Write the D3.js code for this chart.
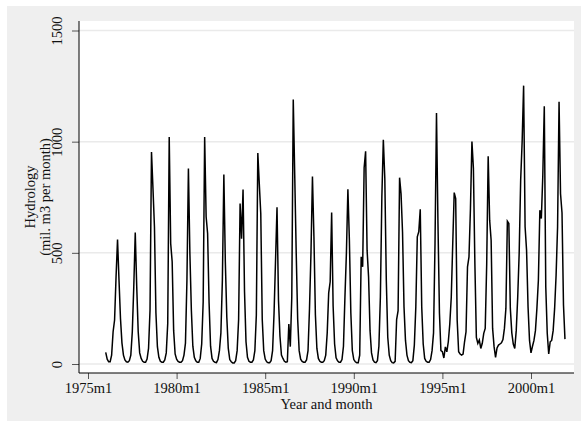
<!DOCTYPE html>
<html>
<head>
<meta charset="utf-8">
<script src="https://cdn.jsdelivr.net/npm/d3@7"></script>
<style>
  body { margin: 0; background: #fff; }
  svg { display: block; }
</style>
</head>
<body>
<svg id="chart" width="581" height="424"></svg>
<script>
// monthly series starts 1976m1
var startYear = 1976;
var hydrology = [
  52, 22, 10, 10, 40, 145, 198, 392, 560, 377, 205, 94,      // 1976
  40, 18, 10, 8, 15, 40, 145, 347, 591, 347, 145, 50,        // 1977
  25, 12, 8, 8, 22, 70, 242, 953, 789, 617, 229, 78,         // 1978
  30, 12, 8, 8, 18, 50, 183, 1021, 542, 460, 150, 45,        // 1979
  22, 12, 8, 8, 15, 40, 94, 377, 879, 497, 242, 80,          // 1980
  30, 14, 8, 8, 25, 90, 280, 1021, 662, 587, 274, 80,        // 1981
  25, 12, 8, 6, 20, 60, 140, 377, 852, 460, 210, 70,         // 1982
  20, 10, 5, 5, 15, 60, 200, 722, 564, 785, 325, 100,        // 1983
  30, 12, 8, 8, 18, 60, 220, 949, 810, 677, 200, 60,         // 1984
  22, 10, 6, 6, 15, 60, 229, 467, 705, 287, 125, 40,         // 1985
  25, 12, 8, 10, 180, 78, 300, 1190, 849, 500, 200, 60,      // 1986
  22, 12, 8, 8, 18, 60, 250, 500, 843, 572, 220, 70,         // 1987
  25, 12, 8, 8, 15, 40, 140, 320, 370, 681, 260, 90,         // 1988
  28, 14, 8, 8, 20, 80, 302, 500, 786, 560, 229, 60,         // 1989
  20, 10, 6, 6, 40, 482, 437, 883, 957, 512, 392, 150,       // 1990
  50, 18, 8, 6, 15, 80, 302, 751, 1009, 834, 380, 120,       // 1991
  40, 15, 6, 5, 12, 200, 240, 838, 766, 594, 257, 106,       // 1992
  40, 15, 8, 6, 15, 85, 257, 572, 595, 696, 257, 90,         // 1993
  25, 12, 8, 8, 20, 60, 140, 542, 1129, 632, 229, 60,        // 1994
  55, 27, 77, 55, 100, 180, 300, 540, 771, 744, 198, 55,     // 1995
  45, 40, 45, 100, 145, 437, 482, 700, 1001, 880, 450, 120,  // 1996
  93, 108, 70, 93, 138, 160, 450, 934, 647, 557, 160, 78,    // 1997
  30, 72, 85, 90, 95, 110, 160, 250, 642, 632, 250, 140,     // 1998
  90, 70, 150, 300, 500, 826, 1000, 1252, 617, 512, 257, 106,// 1999
  50, 80, 106, 150, 250, 377, 692, 654, 849, 1159, 347, 138, // 2000
  45, 100, 106, 150, 250, 400, 617, 1180, 766, 680, 265, 112 // 2001
];
var xTickYears = [1975, 1980, 1985, 1990, 1995, 2000];
var yTicks = [0, 500, 1000, 1500];

var svg = d3.select('#chart');
var font = '"Liberation Serif", "Times New Roman", serif';

var plot = {left: 79, right: 574, top: 21, bottom: 373};

// months counted from 1960m1 like stata %tm
function tm(year, month){ return (year - 1960) * 12 + (month - 1); }

var data = hydrology.map(function(v, i){
  return {t: tm(startYear, 1) + i, value: v};
});

var xScale = d3.scaleLinear()
  .domain([tm(1975, 1), tm(2000, 1)])
  .range([88, 531]);
var yScale = d3.scaleLinear()
  .domain([0, 1500])
  .range([364, 30.5]);

// outer graph region
svg.append('rect')
  .attr('x', 7).attr('y', 6)
  .attr('width', 574).attr('height', 415)
  .attr('fill', '#efefef');

svg.append('rect')
  .attr('x', plot.left).attr('y', plot.top)
  .attr('width', plot.right - plot.left)
  .attr('height', plot.bottom - plot.top)
  .attr('fill', '#fff');

// grid
svg.append('g').selectAll('line')
  .data(yTicks)
  .enter().append('line')
  .attr('x1', plot.left).attr('x2', plot.right)
  .attr('y1', function(d){ return yScale(d); })
  .attr('y2', function(d){ return yScale(d); })
  .attr('stroke', '#eaeaea')
  .attr('stroke-width', 1.5);

// y axis
var yAxis = d3.axisLeft(yScale)
  .tickValues(yTicks)
  .tickSize(7)
  .tickPadding(4)
  .tickFormat(d3.format('d'));
var gy = svg.append('g')
  .attr('transform', 'translate(' + plot.left + ',0)')
  .call(yAxis);
gy.select('.domain').remove();
gy.selectAll('.tick line').attr('stroke', '#555');
gy.selectAll('.tick text')
  .attr('font-family', font)
  .attr('font-size', 14.5)
  .attr('fill', '#111')
  .attr('text-anchor', 'middle')
  .attr('dy', 0)
  .attr('transform', 'translate(-17,0) rotate(-90)')
  .attr('x', 0)
  .attr('y', 0);
svg.append('line')
  .attr('x1', plot.left).attr('x2', plot.left)
  .attr('y1', plot.top).attr('y2', plot.bottom)
  .attr('stroke', '#000').attr('stroke-width', 1);

// x axis
var xAxis = d3.axisBottom(xScale)
  .tickValues(xTickYears.map(function(y){ return tm(y, 1); }))
  .tickSize(6)
  .tickPadding(4)
  .tickFormat(function(d){ return (1960 + Math.floor(d / 12)) + 'm1'; });
var gx = svg.append('g')
  .attr('transform', 'translate(0,' + plot.bottom + ')')
  .call(xAxis);
gx.select('.domain').remove();
gx.selectAll('.tick line').attr('stroke', '#555');
gx.selectAll('.tick text')
  .attr('font-family', font)
  .attr('font-size', 14.5)
  .attr('fill', '#111');
svg.append('line')
  .attr('x1', plot.left).attr('x2', plot.right)
  .attr('y1', plot.bottom).attr('y2', plot.bottom)
  .attr('stroke', '#000').attr('stroke-width', 1);

// titles
svg.append('text')
  .attr('x', (plot.left + plot.right) / 2)
  .attr('y', 409)
  .attr('text-anchor', 'middle')
  .attr('font-family', font)
  .attr('font-size', 14.5)
  .attr('fill', '#111')
  .text('Year and month');

var ytitle = svg.append('text')
  .attr('transform', 'translate(0,' + ((plot.top + plot.bottom) / 2) + ') rotate(-90)')
  .attr('text-anchor', 'middle')
  .attr('font-family', font)
  .attr('font-size', 14.5)
  .attr('fill', '#111');
ytitle.append('tspan').attr('x', 0).attr('y', 35).text('Hydrology');
ytitle.append('tspan').attr('x', 0).attr('y', 50).text('(mil. m3 per month)');

// series
var lineGen = d3.line()
  .x(function(d){ return xScale(d.t); })
  .y(function(d){ return yScale(d.value); });

svg.append('path')
  .datum(data)
  .attr('d', lineGen)
  .attr('fill', 'none')
  .attr('stroke', '#000')
  .attr('stroke-width', 1.5)
  .attr('stroke-linejoin', 'miter');
</script>
</body>
</html>
